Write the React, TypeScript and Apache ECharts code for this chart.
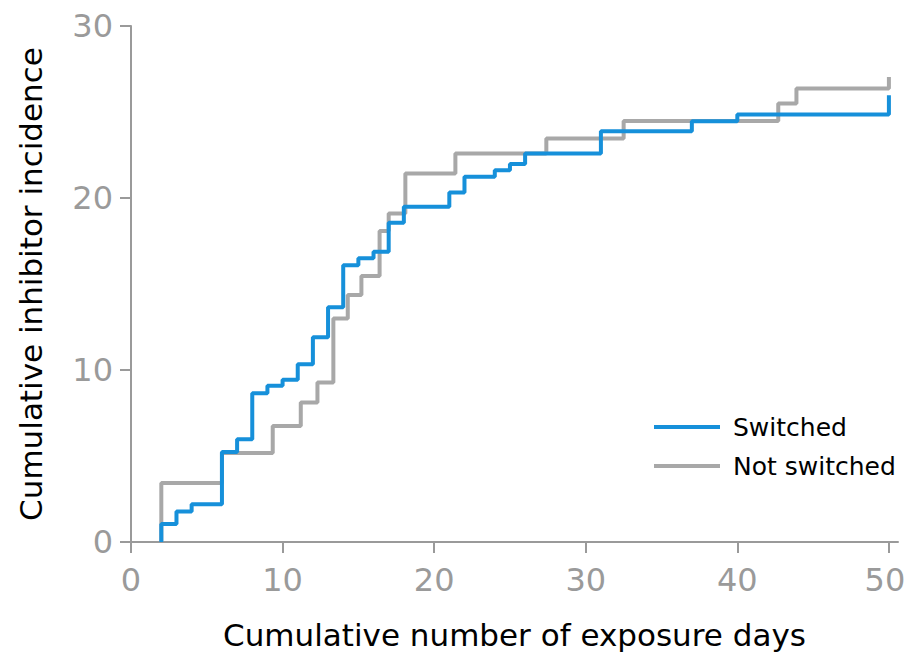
import React, { useEffect, useRef } from "react";
import * as echarts from "echarts";

const seriesNames = ["Switched", "Not switched"];

const switchedX = [2, 2, 3, 4, 6, 7, 8, 9, 10, 11, 12, 13, 14, 15, 16, 17, 18, 21, 22, 24, 25, 26, 31, 37, 40, 50];
const switchedY = [0, 1.05, 1.78, 2.2, 5.23, 5.98, 8.65, 9.08, 9.43, 10.34, 11.9, 13.65, 16.09, 16.49, 16.88, 18.56, 19.49, 20.32, 21.23, 21.62, 21.97, 22.59, 23.88, 24.46, 24.85, 25.98];

const notSwitchedX = [2, 2, 6, 9.35, 11.2, 12.3, 13.35, 14.3, 15.2, 16.4, 17, 18.1, 21.4, 27.4, 32.5, 42.7, 43.9, 50];
const notSwitchedY = [0, 3.43, 5.17, 6.75, 8.11, 9.27, 13.0, 14.36, 15.46, 18.08, 19.1, 21.43, 22.59, 23.46, 24.47, 25.49, 26.36, 27.04];

const xTicks = [0, 10, 20, 30, 40, 50];
const yTicks = [0, 10, 20, 30];

const xTitle = "Cumulative number of exposure days";
const yTitle = "Cumulative inhibitor incidence";

const FONT = "DejaVu Sans";
const BLUE = "#1690da";
const GREY = "#a8a8a8";
const AXIS = "#9a9a9a";

export default function App() {
  const ref = useRef<HTMLDivElement>(null);
  useEffect(() => {
    if (!ref.current) return;
    const chart = echarts.init(ref.current, null, { renderer: "svg" });
    const zip = (xs: number[], ys: number[]) => xs.map((x, i) => [x, ys[i]]);
    const lastX = xTicks[xTicks.length - 1];
    const axisCommon = {
      axisLine: { show: true, lineStyle: { color: AXIS, width: 2 } },
      axisTick: { show: true, length: 11, lineStyle: { color: AXIS, width: 2 } },
      splitLine: { show: false },
      nameLocation: "middle",
    };
    chart.setOption({
      animation: false,
      backgroundColor: "#fff",
      grid: { left: 131, right: 8, top: 26, bottom: 112, containLabel: false, outerBoundsMode: "none" },
      legend: {
        data: seriesNames,
        orient: "vertical",
        left: 654,
        top: 414,
        padding: 0,
        icon: "rect",
        itemWidth: 66,
        itemHeight: 4,
        itemGap: 13,
        textStyle: { fontSize: 25, fontFamily: FONT, color: "#000", lineHeight: 26, padding: [0, 0, 0, 8] },
      },
      xAxis: {
        type: "value",
        min: 0,
        max: 50.6,
        ...axisCommon,
        axisTick: { ...axisCommon.axisTick, customValues: xTicks },
        axisLabel: {
          customValues: xTicks,
          color: AXIS,
          fontSize: 32,
          fontFamily: FONT,
          margin: 22,
          formatter: (v: number) => (v === lastX ? `{e|${v}}` : String(v)),
          rich: { e: { color: AXIS, fontSize: 32, fontFamily: FONT, padding: [0, 8, 0, 0] } },
        },
        name: xTitle,
        nameGap: 77,
        nameTextStyle: { color: "#000", fontSize: 31, fontFamily: FONT },
      },
      yAxis: {
        type: "value",
        min: 0,
        max: 30,
        interval: 10,
        ...axisCommon,
        axisTick: { ...axisCommon.axisTick, customValues: yTicks },
        axisLabel: { customValues: yTicks, color: AXIS, fontSize: 32, fontFamily: FONT, margin: 18 },
        name: yTitle,
        nameGap: 85,
        nameTextStyle: { color: "#000", fontSize: 31, fontFamily: FONT },
      },
      series: [
        {
          name: seriesNames[1],
          type: "line",
          step: "end",
          symbol: "none",
          data: zip(notSwitchedX, notSwitchedY),
          lineStyle: { color: GREY, width: 4 },
          itemStyle: { color: GREY },
        },
        {
          name: seriesNames[0],
          type: "line",
          step: "end",
          symbol: "none",
          data: zip(switchedX, switchedY),
          lineStyle: { color: BLUE, width: 4 },
          itemStyle: { color: BLUE },
        },
      ],
    });
    return () => chart.dispose();
  }, []);
  return <div ref={ref} style={{ width: 906, height: 654, position: "absolute", left: 0, top: 0 }} />;
}
